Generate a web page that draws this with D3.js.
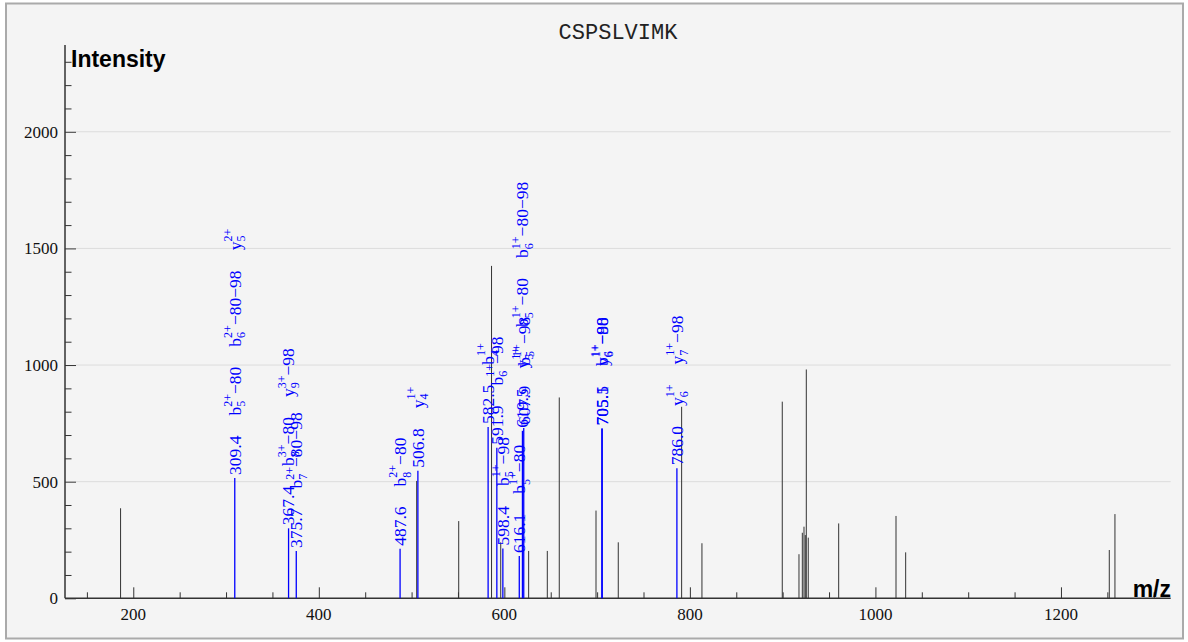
<!DOCTYPE html>
<html><head><meta charset="utf-8">
<script src="https://cdn.jsdelivr.net/npm/d3@7"></script>
<style>body{margin:0;background:#fff}</style>
</head><body><svg id="c" width="1188" height="642"></svg>
<script>
const title = "CSPSLVIMK";
const xTickLabels = [200, 400, 600, 800, 1000, 1200];
const yTickLabels = [0, 500, 1000, 1500, 2000];
const xDomain = [126.4, 1318.3];
const yDomain = [0, 2372];

// unannotated peaks
const peakMz  = [186.3, 505.5, 550.8, 586.2, 596.1, 626.2, 646.3, 659.2, 698.8, 722.8, 791.1, 813.0, 899.6, 917.6, 921.2, 923.0, 924.4, 925.5, 927.6, 960.4, 1022.2, 1032.6, 1252.1, 1258.2];
const peakInt = [386, 503, 331, 1425, 240, 203, 203, 861, 376, 240, 821, 236, 843, 189, 281, 307, 271, 981, 260, 321, 353, 197, 207, 361];

// annotated peaks
const annMz   = [309.4, 367.4, 375.7, 487.6, 506.8, 582.5, 591.9, 598.4, 616.1, 619.5, 620.9, 705.1, 705.5, 786.0];
const annInt  = [516, 300, 203, 212, 547, 734, 645, 214, 181, 718, 730, 728, 728, 557];
const annText = ["309.4", "367.4", "375.7", "487.6", "506.8", "582.5", "591.9", "598.4", "616.1", "619.5", "607.9", "705.1", "705.5", "786.0"];
const annIons = [
  [["b","5","2+"," −80"], ["b","6","2+"," −80−98"], ["y","5","2+",""]],
  [["b","8","3+"," −80"], ["y","9","3+"," −98"]],
  [["b","7","2+"," −80−98"]],
  [["b","8","2+"," −80"]],
  [["y","4","1+",""]],
  [["b","4","1+",""]],
  [["b","6","1+"," −98"]],
  [["b","5","1+"," −98"]],
  [["b","5","1+"," −80"]],
  [["y","5","1+",""], ["b","5","1+"," −80"], ["b","6","1+"," −80−98"]],
  [["b","5","1+"," −98"]],
  [["b","6","1+"," −98"]],
  [["y","6","1+"," −80"]],
  [["y","6","1+",""], ["y","7","1+"," −98"]]
];

const svg = d3.select("#c");
svg.append("rect").attr("x", 6).attr("y", 3.5).attr("width", 1177).attr("height", 635)
  .attr("fill", "#f4f4f4").attr("stroke", "#aaa").attr("stroke-width", 2);

const x = d3.scaleLinear().domain(xDomain).range([65, 1170.7]);
const y = d3.scaleLinear().domain(yDomain).range([598.3, 45]);

// grid
svg.append("g").selectAll("line").data(yTickLabels.filter(d => d > 0)).join("line")
  .attr("x1", 76).attr("x2", 1170.7).attr("y1", d => y(d)).attr("y2", d => y(d))
  .attr("stroke", "#dcdcdc").attr("stroke-width", 1);

// title
svg.append("text").attr("x", 618).attr("y", 39).attr("text-anchor", "middle")
  .attr("font-family", "Liberation Mono, monospace").attr("font-size", 22).attr("fill", "#222").text(title);

// y axis
const yAxis = d3.axisRight(y).tickValues(d3.range(0, 2301, 100)).tickSize(6).tickFormat("");
const gy = svg.append("g").attr("transform", "translate(65,0)").call(yAxis);
gy.select(".domain").remove();
gy.selectAll(".tick line").attr("stroke", "#333").attr("x2", d => d % 500 === 0 ? 11 : 6.5);
svg.append("line").attr("x1", 65).attr("x2", 65).attr("y1", 45).attr("y2", 598.3).attr("stroke", "#333").attr("stroke-width", 1.5);
svg.append("g").selectAll("text").data(yTickLabels).join("text")
  .attr("x", 58).attr("y", d => y(d) + 6).attr("text-anchor", "end")
  .attr("font-family", "Liberation Serif, serif").attr("font-size", 17).attr("fill", "#111").text(d => d);

// x axis
const xAxis = d3.axisTop(x).tickValues(d3.range(150, 1301, 50)).tickSize(6).tickFormat("");
const gx = svg.append("g").attr("transform", "translate(0,598.3)").call(xAxis);
gx.select(".domain").remove();
gx.selectAll(".tick line").attr("stroke", "#333").attr("y2", d => xTickLabels.includes(d) ? -11 : -6);
svg.append("line").attr("x1", 65).attr("x2", 1170.7).attr("y1", 598.3).attr("y2", 598.3).attr("stroke", "#333").attr("stroke-width", 1.5);
svg.append("g").selectAll("text").data(xTickLabels).join("text")
  .attr("x", d => x(d)).attr("y", 620).attr("text-anchor", "middle")
  .attr("font-family", "Liberation Serif, serif").attr("font-size", 17).attr("fill", "#111").text(d => d);

// axis titles
svg.append("text").attr("x", 71).attr("y", 67).attr("font-family", "Liberation Sans, Arial, sans-serif")
  .attr("font-weight", "bold").attr("font-size", 23).attr("fill", "#000").text("Intensity");
svg.append("text").attr("x", 1171).attr("y", 597).attr("text-anchor", "end").attr("font-family", "Liberation Sans, Arial, sans-serif")
  .attr("font-weight", "bold").attr("font-size", 23).attr("fill", "#000").text("m/z");

// black peaks
svg.append("g").selectAll("line").data(peakMz.map((m, i) => [m, peakInt[i]])).join("line")
  .attr("x1", d => x(d[0])).attr("x2", d => x(d[0])).attr("y1", y(0)).attr("y2", d => y(d[1]))
  .attr("stroke", "#333").attr("stroke-width", 1);

// annotated peaks
const blue = "#0000ff";
const ann = annMz.map((m, i) => ({ m, v: annInt[i], t: annText[i], ions: annIons[i] }));
svg.append("g").selectAll("line").data(ann).join("line")
  .attr("x1", d => x(d.m)).attr("x2", d => x(d.m)).attr("y1", y(0)).attr("y2", d => y(d.v))
  .attr("stroke", blue).attr("stroke-width", 1.3);

const F = "Liberation Serif, Times New Roman, serif";
const FS = 17.5, FSS = 12, base = 5.8, gap = 20;
ann.forEach(d => {
  const g = svg.append("g").attr("transform", `translate(${x(d.m)},${y(d.v) - 3}) rotate(-90)`)
    .attr("fill", blue).attr("font-family", F);
  let cur = 0;
  const put = (s, size, dy) => {
    const t = g.append("text").attr("x", cur).attr("y", base + dy).attr("font-size", size).text(s);
    return t.node().getComputedTextLength();
  };
  cur += put(d.t, FS, 0);
  d.ions.forEach(io => {
    cur += gap;
    cur += put(io[0], FS, 0);
    const w1 = put(io[2], FSS, -8.5);
    const w2 = put(io[1], FSS, 4.8);
    cur += Math.max(w1, w2);
    if (io[3]) cur += put(io[3], FS, 0);
  });
});
</script>
</body></html>
